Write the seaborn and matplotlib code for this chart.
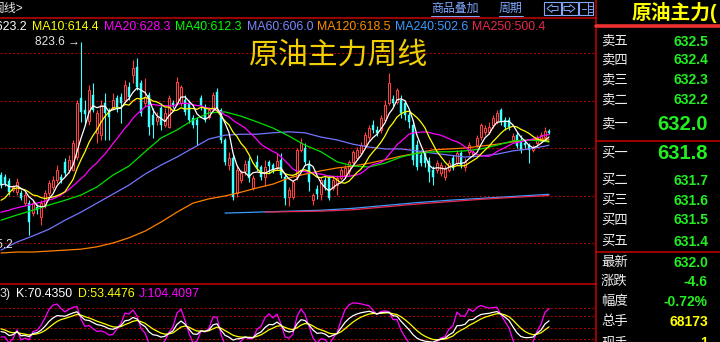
import numpy as np
import pandas as pd
import matplotlib
matplotlib.use("Agg")
import matplotlib.pyplot as plt
from matplotlib.lines import Line2D
from matplotlib.patches import Rectangle, Polygon
import seaborn as sns

# ---------------- data (weekly candles) ----------------
opens = [543, 539, 530, 512, 507, 505, 484, 484, 463, 476,
         455, 480, 505, 518, 533, 539, 570, 554, 554, 581,
         705, 680, 656, 712, 632, 627, 695, 676, 686, 705,
         707, 701, 728, 754, 770, 737, 695, 712, 669, 656,
         684, 648, 644, 695, 695, 695, 701, 695, 663, 659,
         705, 684, 665, 684, 718, 680, 617, 564, 579, 505,
         533, 551, 572, 516, 570, 560, 539, 570, 564, 560,
         575, 539, 497, 497, 539, 596, 600, 564, 491, 514,
         503, 533, 537, 516, 522, 537, 543, 551, 570, 579,
         589, 606, 623, 648, 638, 638, 659, 695, 703, 697,
         701, 695, 669, 648, 606, 585, 589, 572, 553, 553,
         547, 539, 553, 579, 568, 589, 560, 591, 587, 606,
         623, 634, 634, 648, 655, 680, 659, 659, 617, 627,
         617, 610, 606, 596, 610, 615, 623, 636]
highs = [549, 545, 537, 522, 537, 512, 507, 491, 491, 482,
         491, 512, 533, 541, 564, 545, 579, 585, 617, 701,
         823.6, 701, 733, 737, 680, 701, 716, 684, 716, 712,
         716, 743, 739, 785, 789, 743, 747, 718, 684, 676,
         695, 684, 712, 701, 749, 733, 712, 701, 669, 665,
         712, 693, 686, 718, 726, 684, 621, 591, 585, 564,
         553, 575, 581, 543, 585, 564, 575, 575, 568, 589,
         589, 547, 518, 533, 600, 621, 610, 575, 505, 522,
         539, 539, 543, 539, 543, 560, 564, 575, 596, 602,
         612, 634, 648, 659, 646, 669, 701, 758, 712, 726,
         712, 701, 676, 659, 617, 596, 596, 581, 562, 575,
         570, 564, 575, 585, 596, 596, 579, 612, 596, 627,
         653, 648, 655, 669, 680, 684, 665, 665, 632, 634,
         627, 617, 610, 606, 627, 634, 644, 640]
lows = [516, 520, 501, 507, 501, 491, 480, 417, 457, 461,
        438, 474, 499, 512, 526, 526, 541, 547, 552, 575,
        655, 648, 648, 676, 611, 617, 617, 617, 680, 676,
        653, 695, 701, 737, 722, 667, 688, 627, 621, 648,
        638, 644, 642, 684, 690, 688, 669, 653, 642, 606,
        680, 655, 661, 676, 676, 610, 564, 554, 491, 497,
        526, 543, 528, 512, 551, 533, 520, 547, 547, 553,
        537, 480, 478, 493, 533, 591, 564, 510, 480, 493,
        491, 512, 491, 512, 501, 533, 537, 543, 564, 575,
        585, 602, 617, 632, 625, 632, 655, 690, 688, 693,
        663, 659, 642, 564, 553, 562, 560, 528, 522, 547,
        541, 533, 549, 553, 564, 558, 551, 585, 581, 602,
        617, 627, 629, 642, 650, 648, 638, 638, 612, 600,
        589, 600, 568, 592, 604, 610, 619, 630]
closes = [522, 527, 507, 518, 528, 495, 501, 444, 484, 469,
          484, 505, 526, 533, 554, 533, 547, 575, 610, 695,
          676, 672, 722, 680, 674, 690, 674, 665, 701, 684,
          695, 733, 707, 768, 728, 674, 707, 644, 648, 665,
          648, 674, 705, 690, 739, 728, 676, 659, 648, 648,
          690, 659, 680, 712, 684, 617, 570, 579, 497, 553,
          547, 566, 537, 537, 560, 539, 560, 562, 553, 572,
          543, 495, 512, 528, 596, 610, 570, 528, 501, 503,
          533, 518, 495, 533, 537, 553, 558, 570, 591, 596,
          606, 627, 642, 638, 632, 663, 690, 737, 695, 722,
          674, 669, 655, 575, 560, 568, 568, 549, 539, 568,
          564, 558, 568, 558, 589, 564, 570, 606, 591, 621,
          648, 642, 644, 663, 674, 655, 644, 644, 625, 604,
          596, 606, 596, 600, 621, 627, 636.6, 632.0]

# moving-average values before enough history is on screen
ma10_lead = [490, 495, 505, 514, 516, 514, 512, 507, 501]
ma20_lead = [465, 467, 469, 472, 474, 476, 478, 480, 482, 484,
             486, 488, 491, 493, 497, 501, 507, 513, 520]

long_idx = list(range(0, 137, 4)) + [137]
ma40 = [448, 459, 469, 480, 490, 501, 518, 543, 562, 592, 621, 638, 659, 674,
        676, 667, 655, 642, 625, 606, 592, 571, 562, 560, 568, 581, 589, 592,
        592, 594, 598, 606, 615, 617, 614, 612.3]
ma60 = [385, 402, 415, 429, 448, 465, 484, 503, 522, 545, 564, 581, 600, 619,
        627, 629, 629, 632, 634, 632, 623, 617, 608, 602, 598, 598, 594, 589,
        585, 581, 583, 587, 594, 598, 604, 606.0]
ma120 = [379, 381, 381, 383, 385, 387, 392, 400, 411, 425, 444, 465, 484, 493,
         499, 507, 516, 524, 537, 545, 552, 558, 562, 568, 575, 583, 589, 596,
         598, 600, 604, 608, 613, 617, 619, 618.5]
ma240_idx = [56, 64, 72, 80, 88, 96, 104, 112, 120, 128, 136, 137]
ma240 = [463, 465, 467, 469, 473, 479, 485, 490, 494, 498, 502, 502.6]
ma250_idx = [66, 72, 80, 88, 96, 104, 112, 120, 128, 136, 137]
ma250 = [465, 466, 467, 470, 476, 482, 487, 492, 496, 499.5, 500.4]

grid_prices = [400, 500, 600, 700, 800]
kdj_grid = [20, 50, 80, 100]
low_label = 395.2

ma_legend = [("MA5:623.2", "#ffffff"), ("MA10:614.4", "#ffff00"),
             ("MA20:628.3", "#ff00ff"), ("MA40:612.3", "#00ff00"),
             ("MA60:606.0", "#7b86ff"), ("MA120:618.5", "#ff8c00"),
             ("MA240:502.6", "#3c9cff"), ("MA250:500.4", "#e8284e")]
kdj_legend = [("3)", "#e0e0e0"), ("K:70.4350", "#ffffff"),
              ("D:53.4476", "#ffff00"), ("J:104.4097", "#ff00ff")]
quote_labels = ["卖五", "卖四", "卖三", "卖二", "卖一", "买一", "买二", "买三",
                "买四", "买五", "最新", "涨跌", "幅度", "总手", "现手"]
quote_values = ["632.5", "632.4", "632.3", "632.2", "632.0", "631.8", "631.7",
                "631.6", "631.5", "631.4", "632.0", "-4.6", "-0.72%", "68173", "1"]
title = "原油主力周线"
panel_title = "原油主力("

# ---------------- style ----------------
sns.set_style("dark", {"axes.facecolor": "black", "figure.facecolor": "black"})
plt.rcParams["font.family"] = ["Liberation Sans", "Noto Sans CJK SC", "DejaVu Sans"]

W, H = 720, 342
fig = plt.figure(figsize=(W / 100, H / 100), dpi=100, facecolor="black")


def fx(px):
    return px / W


def fy(py):
    return 1 - py / H


RED = "#ff4040"
CYAN = "#40ffff"
GRID = "#b00000"
LINE_RED = "#c80000"

o = np.array(opens, float)
h = np.array(highs, float)
l = np.array(lows, float)
c = np.array(closes, float)
n = len(c)
idx = np.arange(n)

XMIN, XMAX = -0.25, 148.5

# ---------------- main price panel ----------------
ax = fig.add_axes([0, fy(283), 595 / W, (283 - 18) / H])
ax.set_xlim(XMIN, XMAX)
ax.set_ylim(315.8, 873.7)
ax.axis("off")

ax.hlines(grid_prices, XMIN, XMAX, colors=GRID, linestyles=(0, (2, 2)), linewidth=0.75, zorder=1)

dn = c < o
up = ~dn
ax.vlines(idx[dn], l[dn], h[dn], color=CYAN, lw=0.8, zorder=2)
ax.bar(idx[dn], o[dn] - c[dn], bottom=c[dn], width=0.72, color=CYAN, edgecolor=CYAN, lw=0.3, zorder=3)
ax.vlines(idx[up], l[up], o[up], color=RED, lw=0.8, zorder=2)
ax.vlines(idx[up], c[up], h[up], color=RED, lw=0.8, zorder=2)
ax.bar(idx[up], c[up] - o[up], bottom=o[up], width=0.55, facecolor="black", edgecolor=RED, lw=0.75, zorder=3)

cs = pd.Series(c)
ma5 = cs.rolling(5, min_periods=1).mean().to_numpy()
ma10 = cs.rolling(10).mean().to_numpy()
ma10[:len(ma10_lead)] = ma10_lead
ma20 = cs.rolling(20).mean().to_numpy()
ma20[:len(ma20_lead)] = ma20_lead

lines = [
    (long_idx, ma120, "#ff8000"),
    (ma240_idx, ma240, "#3c9cff"),
    (ma250_idx, ma250, "#e8284e"),
    (long_idx, ma60, "#7474ff"),
    (long_idx, ma40, "#00e000"),
    (idx, ma20, "#ff00ff"),
    (idx, ma10, "#ffff00"),
    (idx, ma5, "#ffffff"),
]
for k, (xx, yy, col) in enumerate(lines):
    sns.lineplot(x=np.asarray(xx), y=np.asarray(yy, float), ax=ax, color=col,
                 linewidth=0.9, legend=False, estimator=None, sort=False, zorder=4 + k)

# highest / lowest price labels
imax = int(np.argmax(h))
ax.annotate(f"{h[imax]:.1f} \u2192", xy=(imax, h[imax]), xytext=(-1, 0),
            textcoords="offset pixels", ha="right", va="center",
            color="#e6e6e6", fontsize=8.6, zorder=20)
ax.text(XMIN + 13.5 / 4, low_label, f"{low_label:.1f}", ha="right", va="center",
        color="#e6e6e6", fontsize=8.6, zorder=20, clip_on=False)

# ---------------- KDJ panel ----------------
ax2 = fig.add_axes([0, 0, 595 / W, (342 - 283) / H])
ax2.set_xlim(XMIN, XMAX)
ax2.set_ylim(12.2, 166.2)
ax2.axis("off")
ax2.hlines(kdj_grid, XMIN, XMAX, colors=GRID, linestyles=(0, (2, 2)), linewidth=0.75, zorder=1)

lo9 = pd.Series(l).rolling(9, min_periods=1).min().to_numpy()
hi9 = pd.Series(h).rolling(9, min_periods=1).max().to_numpy()
rsv = (c - lo9) / np.where(hi9 - lo9 == 0, 1, hi9 - lo9) * 100
K = np.zeros(n)
D = np.zeros(n)
kp, dp = 50.0, 50.0
for i in range(n):
    kp = 2 / 3 * kp + rsv[i] / 3
    dp = 2 / 3 * dp + kp / 3
    K[i], D[i] = kp, dp
J = 3 * K - 2 * D
for yy, col in [(J, "#ff00ff"), (D, "#ffff00"), (K, "#ffffff")]:
    sns.lineplot(x=idx, y=yy, ax=ax2, color=col, linewidth=0.9, legend=False,
                 estimator=None, sort=False)

# ---------------- frame lines ----------------
def hline(y, x0, x1, col=LINE_RED, lw=1.1):
    fig.add_artist(Line2D([fx(x0), fx(x1)], [fy(y), fy(y)], color=col, lw=lw))


hline(17.5, 0, 595.5)
hline(283.5, 0, 595.5)
fig.add_artist(Line2D([fx(595.5), fx(595.5)], [0, 1], color=LINE_RED, lw=1.1))
hline(26, 596, 720, col="#ee3030", lw=2.6)
hline(140.5, 596, 720)
hline(251.5, 596, 720)


def ftext(x, y, s, **kw):
    kw.setdefault("va", "center")
    return fig.text(fx(x), fy(y), s, **kw)


# ---------------- top bar ----------------
ftext(23, 9, "周线>", ha="right", color="#e8e8e8", fontsize=8.6)
BLUE = "#80a8ff"
ftext(431, 8.5, "商品叠加", ha="left", color=BLUE, fontsize=8.6)
ftext(499, 8.5, "周期", ha="left", color=BLUE, fontsize=8.6)
hline(15.5, 431, 479, col=BLUE, lw=0.7)
hline(15.5, 499, 523, col=BLUE, lw=0.7)
for bx0, bx1 in [(544, 561), (562, 578), (579, 593)]:
    fig.add_artist(Rectangle((fx(bx0), fy(15)), fx(bx1 - bx0), (15 - 2) / H,
                             fill=False, edgecolor=BLUE, lw=0.8))
larrow = [(547, 8.5), (552, 4.5), (552, 6.5), (558, 6.5), (558, 10.5), (552, 10.5), (552, 12.5)]
rarrow = [(575, 8.5), (570, 4.5), (570, 6.5), (564, 6.5), (564, 10.5), (570, 10.5), (570, 12.5)]
for pts in (larrow, rarrow):
    fig.add_artist(Polygon([(fx(a), fy(b)) for a, b in pts], closed=True,
                           fill=False, edgecolor=BLUE, lw=0.7))
fig.add_artist(Line2D([fx(588), fx(588)], [fy(3), fy(14)], color=BLUE, lw=0.7))
for yy in (6, 9, 12):
    hline(yy, 589, 592, col=BLUE, lw=0.7)
hline(8.5, 582, 586, col=BLUE, lw=0.7)

# ---------------- legends ----------------
ma_x = [27, 32, 104, 175, 247, 317, 395, 472]
for k, ((s, col), x) in enumerate(zip(ma_legend, ma_x)):
    ftext(x, 27.5, s, ha="right" if k == 0 else "left", color=col, fontsize=8.9)
kdj_x = [0, 16, 78, 139]
for (s, col), x in zip(kdj_legend, kdj_x):
    ftext(x, 294, s, ha="left", color=col, fontsize=8.9)

ftext(339, 56, title, ha="center", color="#f2cf00", fontsize=21.5)

# ---------------- right quote panel ----------------
ftext(632, 12.5, panel_title, ha="left", color="#ffff00", fontsize=14.2, fontweight="bold")
row_y = [41.7, 60.5, 80, 100, 124.5, 153.5, 181, 201, 220.5, 241.5, 263, 282, 302, 322, 343]
for k, (lab, val, yy) in enumerate(zip(quote_labels, quote_values, row_y)):
    ftext(601, yy, lab, ha="left", color="#eeeeee", fontsize=9.6)
    big = lab in ("卖一", "买一")
    col = "#ffff00" if lab in ("总手", "现手") else "#22ee22"
    ftext(708, yy + (0.5 if big else 0), val, ha="right", color=col,
          fontsize=14.5 if big else 10, fontweight="bold")

fig.savefig("out.png", dpi=100, facecolor="black")
